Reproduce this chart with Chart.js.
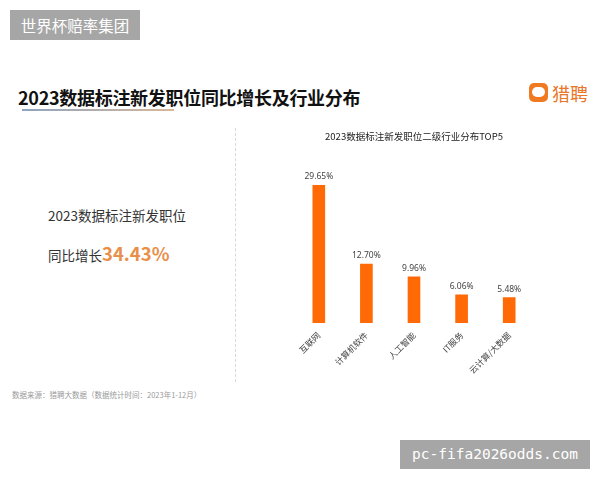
<!DOCTYPE html>
<html>
<head>
<meta charset="utf-8">
<script src="https://cdn.jsdelivr.net/npm/chart.js@4"></script>
<style>
  html, body { margin: 0; padding: 0; background: #ffffff; }
  body { width: 600px; height: 480px; position: relative; overflow: hidden; font-family: "Noto Sans CJK SC", "Noto Sans", sans-serif; }
  .abs { position: absolute; white-space: nowrap; }
  #wm1 { left: 10px; top: 10px; width: 130px; height: 30px; background: #a6a6a6; color: #fff; font-size: 15.5px; line-height: 30px; text-align: center; }
  #wm2 { left: 400px; top: 440px; width: 190px; height: 29px; background: #a6a6a6; color: #fff; font-family: "DejaVu Sans Mono", monospace; font-size: 14.5px; line-height: 29px; text-align: center; }
  #title { left: 18px; top: 84px; font-size: 18px; font-weight: 700; color: #111; letter-spacing: -0.3px; }
  #uline { left: 22px; top: 109px; width: 152px; height: 2px; background: linear-gradient(90deg, #8fa3c0, #d8b89a); }
  #logoIcon { left: 529px; top: 83px; width: 19px; height: 19px; border-radius: 5px; background: #f07a22; }
  #logoIcon span { position: absolute; left: 3px; top: 4px; width: 13px; height: 10px; border-radius: 5px; background: #fff; }
  #logoText { left: 552px; top: 80px; font-size: 18px; color: #e9762a; }
  #dash { left: 235px; top: 128px; height: 254px; border-left: 1px dashed #d8d8d8; }
  #l1 { left: 48px; top: 205px; font-size: 13.5px; color: #333; }
  #l2 { left: 48px; top: 240px; font-size: 13.5px; color: #333; }
  #l2 b { font-size: 18.5px; color: #e8904a; font-weight: 700; }
  #src { left: 12px; top: 389px; font-size: 7.5px; color: #9a9a9a; }
  #chartBox { position: absolute; left: 270px; top: 120px; width: 300px; height: 270px; }
</style>
</head>
<body>
<div id="wm1" class="abs">世界杯赔率集团</div>
<div id="title" class="abs">2023数据标注新发职位同比增长及行业分布</div>
<div id="uline" class="abs"></div>
<div id="logoIcon" class="abs"><span></span></div>
<div id="logoText" class="abs">猎聘</div>
<div id="dash" class="abs"></div>
<div id="l1" class="abs">2023数据标注新发职位</div>
<div id="l2" class="abs">同比增长<b>34.43%</b></div>
<div id="src" class="abs">数据来源：猎聘大数据（数据统计时间：2023年1-12月）</div>
<div id="chartBox"><canvas id="c" width="300" height="270"></canvas></div>
<div id="wm2" class="abs">pc-fifa2026odds.com</div>
<script>
const categories = ["互联网", "计算机软件", "人工智能", "IT服务", "云计算/大数据"];
const shares = [29.65, 12.70, 9.96, 6.06, 5.48];
const shareLabels = ["29.65%", "12.70%", "9.96%", "6.06%", "5.48%"];
const chartTitle = "2023数据标注新发职位二级行业分布TOP5";

const valueLabelPlugin = {
  id: 'valueLabels',
  afterDatasetsDraw(chart) {
    const ctx = chart.ctx;
    const meta = chart.getDatasetMeta(0);
    ctx.save();
    ctx.font = '8.5px "Noto Sans", "DejaVu Sans", sans-serif';
    ctx.fillStyle = '#444';
    ctx.textAlign = 'center';
    ctx.textBaseline = 'bottom';
    meta.data.forEach((bar, i) => {
      ctx.fillText(shareLabels[i], bar.x, bar.y - 4);
    });
    ctx.restore();
  }
};

new Chart(document.getElementById('c'), {
  type: 'bar',
  data: {
    labels: categories,
    datasets: [{
      data: shares,
      backgroundColor: '#ff6a06',
      borderWidth: 0,
      barThickness: 12
    }]
  },
  options: {
    responsive: false,
    animation: false,
    events: [],
    layout: { padding: { left: 25, right: 37, top: 0, bottom: 0 } },
    plugins: {
      legend: { display: false },
      tooltip: { enabled: false },
      title: {
        display: true,
        text: chartTitle,
        color: '#222',
        font: { family: '"Noto Sans CJK SC", sans-serif', size: 9.5, weight: 'normal' },
        padding: { top: 11, bottom: 18 }
      }
    },
    scales: {
      y: { display: false, min: 0, max: 35 },
      x: {
        grid: { display: false, drawTicks: false },
        border: { display: false },
        ticks: {
          minRotation: 45, maxRotation: 45, padding: 7,
          color: '#444',
          font: { family: '"Noto Sans CJK SC", sans-serif', size: 8.5 }
        },
        afterFit(scale) { scale.height = 67; }
      }
    }
  },
  plugins: [valueLabelPlugin]
});
</script>
</body>
</html>
